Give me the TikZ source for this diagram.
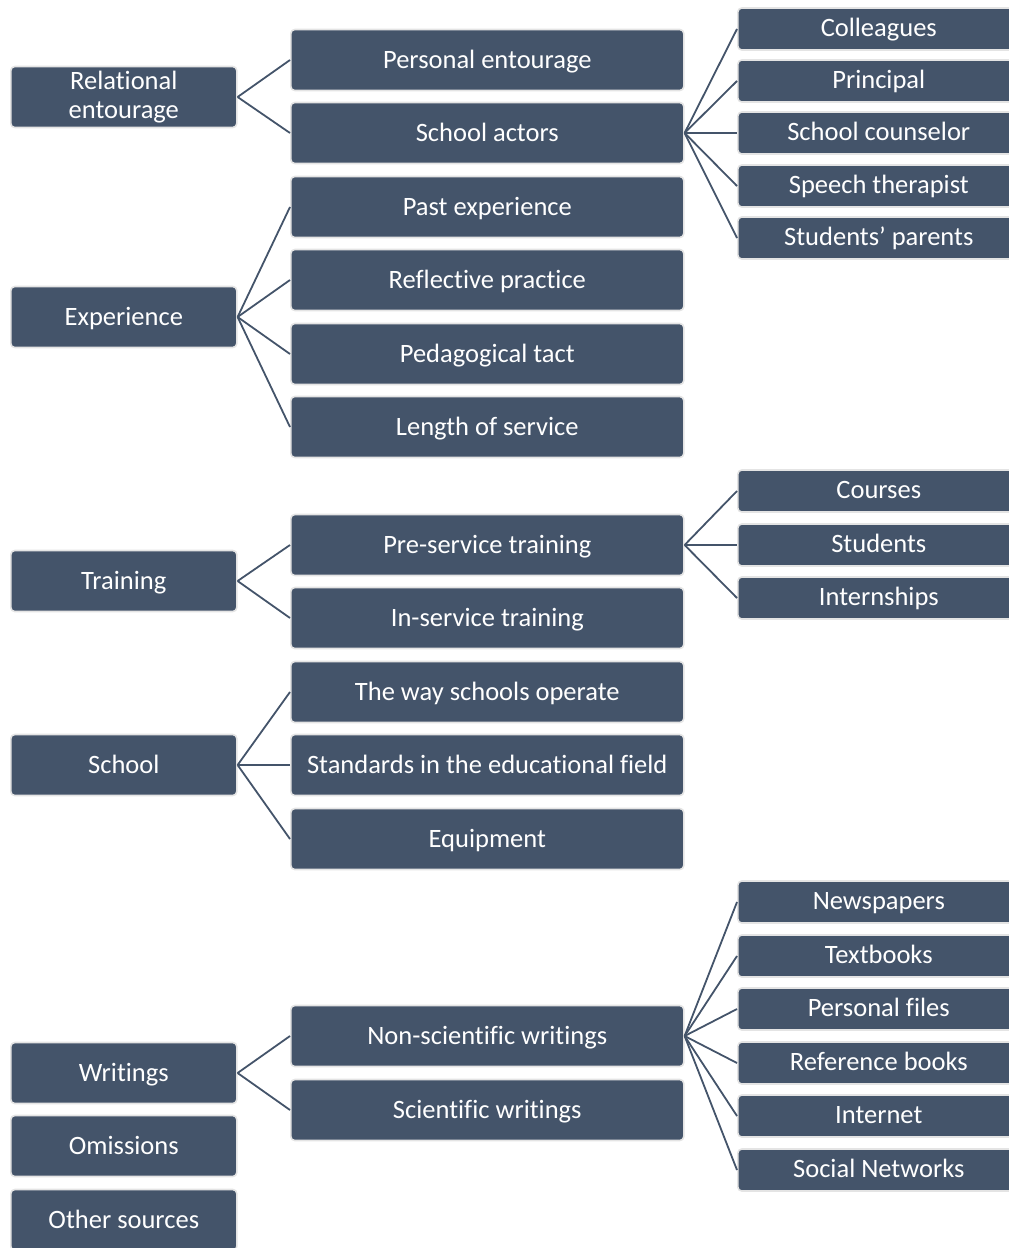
\documentclass[tikz,border=0pt]{standalone}
\usepackage{fontspec}
\setmainfont{Carlito}[Ligatures=NoCommon]
\usetikzlibrary{positioning}
\definecolor{slate}{HTML}{44546A}
\definecolor{rim}{HTML}{E4E4E4}

\begin{document}
\begin{tikzpicture}[x=1pt, y=-1pt, font=\fontsize{26.5}{29}\selectfont,
  box/.style={draw=rim, line width=1.6pt, fill=slate, text=white, rounded corners=4pt,
    align=center, inner sep=2pt, anchor=west, text height=22.5pt, text depth=5.6pt},
  top/.style={box, minimum width=226pt, minimum height=61pt},
  mid/.style={box, minimum width=393pt, minimum height=61pt},
  leaf/.style={box, minimum width=282pt, minimum height=42pt, text height=20pt},
  link/.style={draw=slate, line width=1.8pt}]
\useasboundingbox (0,0) rectangle (1009,1248);
% first column
\node[top, text width=220pt, inner ysep=0pt, text depth=38pt] (rel) at (10,97) {Relational\\entourage};
\node[top] (exp) at (10,317) {Experience};
\node[top] (trn) at (10,581) {Training};
\node[top] (sch) at (10,765) {School};
\node[top] (wri) at (10,1073) {Writings};
\node[top] (omi) at (10,1146) {Omissions};
\node[top] (oth) at (10,1220) {Other sources};
% second column
\node[mid] (pers) at (290,60) {Personal entourage};
\node[mid] (act) at (290,133) {School actors};
\node[mid] (past) at (290,207) {Past experience};
\node[mid] (refl) at (290,280) {Reflective practice};
\node[mid] (tact) at (290,354) {Pedagogical tact};
\node[mid] (serv) at (290,427) {Length of service};
\node[mid] (pre) at (290,545) {Pre-service training};
\node[mid] (ins) at (290,618) {In-service training};
\node[mid] (oper) at (290,692) {The way schools operate};
\node[mid] (stand) at (290,765) {Standards in the educational field};
\node[mid] (equi) at (290,839) {Equipment};
\node[mid] (nons) at (290,1036) {Non-scientific writings};
\node[mid] (scie) at (290,1110) {Scientific writings};
% third column
\node[leaf] (coll) at (737,29) {Colleagues};
\node[leaf] (prin) at (737,81) {Principal};
\node[leaf] (couns) at (737,133) {School counselor};
\node[leaf] (speech) at (737,186) {Speech therapist};
\node[leaf] (par) at (737,238) {Students’ parents};
\node[leaf] (cour) at (737,491) {Courses};
\node[leaf] (stud) at (737,545) {Students};
\node[leaf] (intern) at (737,598) {Internships};
\node[leaf] (news) at (737,902) {Newspapers};
\node[leaf] (text) at (737,956) {Textbooks};
\node[leaf] (files) at (737,1009) {Personal files};
\node[leaf] (refb) at (737,1063) {Reference books};
\node[leaf] (net) at (737,1116) {Internet};
\node[leaf] (soc) at (737,1170) {Social Networks};
% connectors
\draw[link] (rel.east) -- (pers.west); \draw[link] (rel.east) -- (act.west);
\draw[link] (exp.east) -- (past.west); \draw[link] (exp.east) -- (refl.west);
\draw[link] (exp.east) -- (tact.west); \draw[link] (exp.east) -- (serv.west);
\draw[link] (trn.east) -- (pre.west); \draw[link] (trn.east) -- (ins.west);
\draw[link] (sch.east) -- (oper.west); \draw[link] (sch.east) -- (stand.west);
\draw[link] (sch.east) -- (equi.west);
\draw[link] (wri.east) -- (nons.west); \draw[link] (wri.east) -- (scie.west);
\draw[link] (act.east) -- (coll.west); \draw[link] (act.east) -- (prin.west);
\draw[link] (act.east) -- (couns.west); \draw[link] (act.east) -- (speech.west);
\draw[link] (act.east) -- (par.west);
\draw[link] (pre.east) -- (cour.west); \draw[link] (pre.east) -- (stud.west);
\draw[link] (pre.east) -- (intern.west);
\draw[link] (nons.east) -- (news.west); \draw[link] (nons.east) -- (text.west);
\draw[link] (nons.east) -- (files.west); \draw[link] (nons.east) -- (refb.west);
\draw[link] (nons.east) -- (net.west); \draw[link] (nons.east) -- (soc.west);
\end{tikzpicture}
\end{document}
